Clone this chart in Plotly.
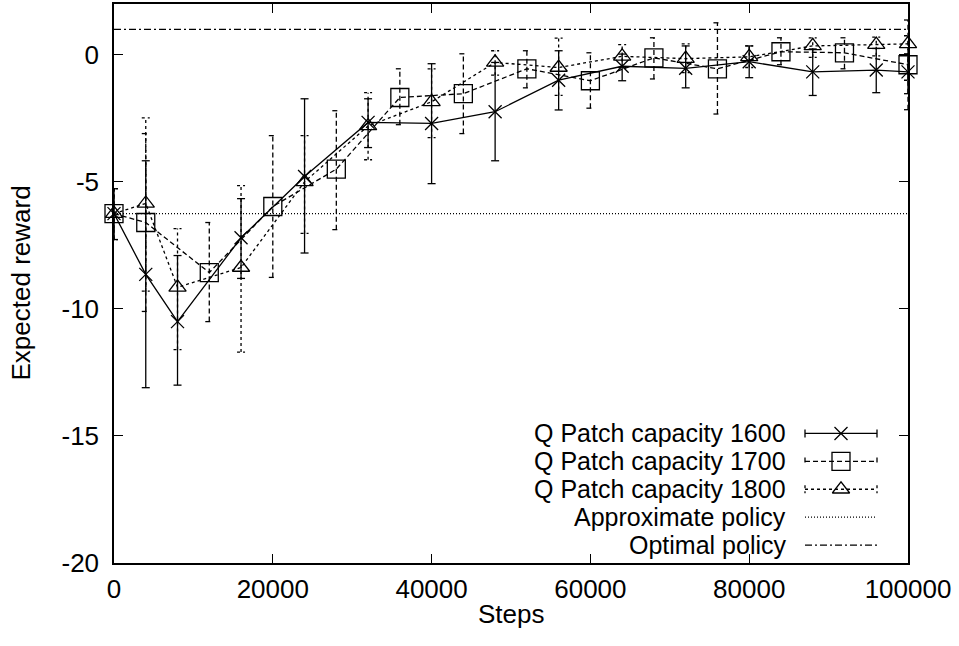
import plotly.graph_objects as go

# ---------------- data ----------------
steps_a = [0, 4000, 8000, 16000, 24000, 32000, 40000, 48000, 56000, 64000,
           72000, 80000, 88000, 96000, 100000]
steps_b = [0, 4000, 12000, 20000, 28000, 36000, 44000, 52000, 60000, 68000,
           76000, 84000, 92000, 100000]

r1600 = [-6.25, -8.64, -10.5, -7.2, -4.79, -2.66, -2.7, -2.24, -1.0, -0.45,
         -0.53, -0.27, -0.67, -0.6, -0.67]
lo1600 = [-7.27, -13.1, -13.0, -8.8, -7.8, -3.65, -5.07, -4.17, -2.17, -1.02,
          -1.3, -0.9, -1.6, -1.49, -1.53]
hi1600 = [-5.27, -4.17, -7.9, -5.66, -1.73, -1.73, -0.35, -0.3, 0.16, 0.03,
          0.35, 0.35, 0.23, 0.25, 0.04]

r1700 = [-6.25, -6.6, -8.57, -5.97, -4.5, -1.68, -1.53, -0.55, -1.02, -0.12,
         -0.55, 0.12, 0.08, -0.39]
lo1700 = [-7.27, -10.1, -10.5, -8.76, -6.88, -2.75, -3.1, -1.3, -2.1, -0.95,
          -2.33, -0.39, -0.55, -2.16]
hi1700 = [-5.27, -3.1, -6.6, -3.18, -2.2, -0.55, 0.04, 0.16, 0.08, 0.67,
          1.26, 0.67, 0.67, 1.37]

r1800 = [-6.25, -5.85, -9.15, -8.37, -5.0, -2.8, -1.85, -0.3, -0.5, -0.06,
         -0.15, -0.08, 0.35, 0.4, 0.43]
lo1800 = [-7.27, -9.3, -11.6, -11.7, -7.03, -4.13, -3.26, -0.8, -1.6, -0.5,
          -0.7, -0.5, -0.1, -0.04, -1.0]
hi1800 = [-5.27, -2.48, -6.84, -5.15, -3.18, -1.49, -0.55, 0.16, 0.66, 0.4,
          0.43, 0.35, 0.67, 0.7, 0.75]

approx_policy = -6.25
optimal_policy = 1.0
x_range = [0, 100000]
y_range = [-20, 2]
x_ticks = [0, 20000, 40000, 60000, 80000, 100000]
y_ticks = [-20, -15, -10, -5, 0]
series_names = ["Q Patch capacity 1600", "Q Patch capacity 1700",
                "Q Patch capacity 1800", "Approximate policy", "Optimal policy"]
x_title = "Steps"
y_title = "Expected reward"

# ---------------- styling ----------------
W, H = 959, 646
L, R, T, B = 114, 51, 2, 83
PW, PH = W - L - R, H - T - B
FONT = "Liberation Sans, Arial, Helvetica, sans-serif"
FS = 26
KEY_FS = 25
LW = 1.3
BLACK = "#000000"
PX_PER_X = PW / (x_range[1] - x_range[0])
CAP = 4 / PX_PER_X  # half cap width in data units

styles = [
    dict(dash="solid", symbol="x-thin", size=13),
    dict(dash="5px,3px", symbol="square-open", size=18),
    dict(dash="3px,3px", symbol="triangle-up-open", size=15),
]


def px_to_paper(px, py):
    return (px - L) / PW, (H - B - py) / PH


def errbar_segments(xs, lo, hi):
    ex, ey = [], []
    for x, a, b in zip(xs, lo, hi):
        ex += [x, x, None, x - CAP, x + CAP, None, x - CAP, x + CAP, None]
        ey += [a, b, None, a, a, None, b, b, None]
    return ex, ey


fig = go.Figure()

datasets = [(steps_a, r1600, lo1600, hi1600),
            (steps_b, r1700, lo1700, hi1700),
            (steps_a, r1800, lo1800, hi1800)]

for (xs, ys, lo, hi), st in zip(datasets, styles):
    ex, ey = errbar_segments(xs, lo, hi)
    fig.add_trace(go.Scatter(x=ex, y=ey, mode="lines", showlegend=False,
                             line=dict(color=BLACK, width=LW, dash=st["dash"]),
                             hoverinfo="skip"))
    fig.add_trace(go.Scatter(x=xs, y=ys, mode="lines+markers", showlegend=False,
                             line=dict(color=BLACK, width=LW, dash=st["dash"]),
                             marker=dict(symbol=st["symbol"], size=st["size"],
                                         color=BLACK,
                                         line=dict(color=BLACK, width=LW)),
                             cliponaxis=False))

fig.add_trace(go.Scatter(x=x_range, y=[approx_policy, approx_policy], mode="lines",
                         showlegend=False,
                         line=dict(color=BLACK, width=LW, dash="1px,2px")))
fig.add_trace(go.Scatter(x=x_range, y=[optimal_policy, optimal_policy], mode="lines",
                         showlegend=False,
                         line=dict(color=BLACK, width=LW, dash="7px,3px,2px,3px")))

# ---------------- gnuplot-style key (pixel overlay axes) ----------------
key_rows = [433, 461, 489, 517, 545]
key_text_right = 787
key_x0, key_x1 = 805, 877
key_dashes = [s["dash"] for s in styles] + ["1px,2px", "7px,3px,2px,3px"]
for i, (name, yrow) in enumerate(zip(series_names, key_rows)):
    fig.add_annotation(x=key_text_right, y=yrow, xref="x2", yref="y2", text=name,
                       showarrow=False, xanchor="right", yanchor="middle",
                       borderpad=0,
                       font=dict(family=FONT, size=KEY_FS, color=BLACK))
    lx = [key_x0, key_x1]
    ly = [yrow, yrow]
    if i < 3:
        lx += [None, key_x0, key_x0, None, key_x1, key_x1]
        ly += [None, yrow - 4, yrow + 4, None, yrow - 4, yrow + 4]
    fig.add_trace(go.Scatter(x=lx, y=ly, mode="lines", xaxis="x2", yaxis="y2",
                             showlegend=False, hoverinfo="skip",
                             line=dict(color=BLACK, width=LW, dash=key_dashes[i])))
    if i < 3:
        st = styles[i]
        fig.add_trace(go.Scatter(x=[(key_x0 + key_x1) / 2], y=[yrow], mode="markers",
                                 xaxis="x2", yaxis="y2", showlegend=False,
                                 hoverinfo="skip", cliponaxis=False,
                                 marker=dict(symbol=st["symbol"], size=st["size"],
                                             color=BLACK,
                                             line=dict(color=BLACK, width=LW))))

# axis titles (paper coordinates)
yt_x, yt_y = px_to_paper(20, (T + H - B) / 2)
fig.add_annotation(x=yt_x, y=yt_y, xref="paper", yref="paper", text=y_title,
                   textangle=-90, showarrow=False, xanchor="center", yanchor="middle",
                   font=dict(family=FONT, size=FS, color=BLACK))
xt_x, xt_y = px_to_paper((L + W - R) / 2, 614)
fig.add_annotation(x=xt_x, y=xt_y, xref="paper", yref="paper", text=x_title,
                   showarrow=False, xanchor="center", yanchor="middle",
                   font=dict(family=FONT, size=FS, color=BLACK))

axis_common = dict(showgrid=False, zeroline=False, showline=True, linecolor=BLACK,
                   linewidth=1.5, mirror="ticks", ticks="inside", ticklen=9,
                   tickwidth=1.3, tickcolor=BLACK,
                   tickfont=dict(family=FONT, size=FS, color=BLACK))

fig.update_layout(
    width=W, height=H,
    margin=dict(l=L, r=R, t=T, b=B, pad=0),
    paper_bgcolor="white", plot_bgcolor="white",
    showlegend=False,
    xaxis=dict(range=x_range, tickmode="array", tickvals=x_ticks,
               ticktext=[str(v) for v in x_ticks], ticklabelstandoff=2,
               **axis_common),
    yaxis=dict(range=y_range, tickmode="array", tickvals=y_ticks,
               ticktext=[str(v) for v in y_ticks], ticklabelstandoff=8,
               **axis_common),
    xaxis2=dict(overlaying="x", range=[L, W - R], visible=False, anchor="y2",
                fixedrange=True),
    yaxis2=dict(overlaying="y", range=[H - B, T], visible=False, anchor="x2",
                fixedrange=True),
)

fig.write_html("out.html")
